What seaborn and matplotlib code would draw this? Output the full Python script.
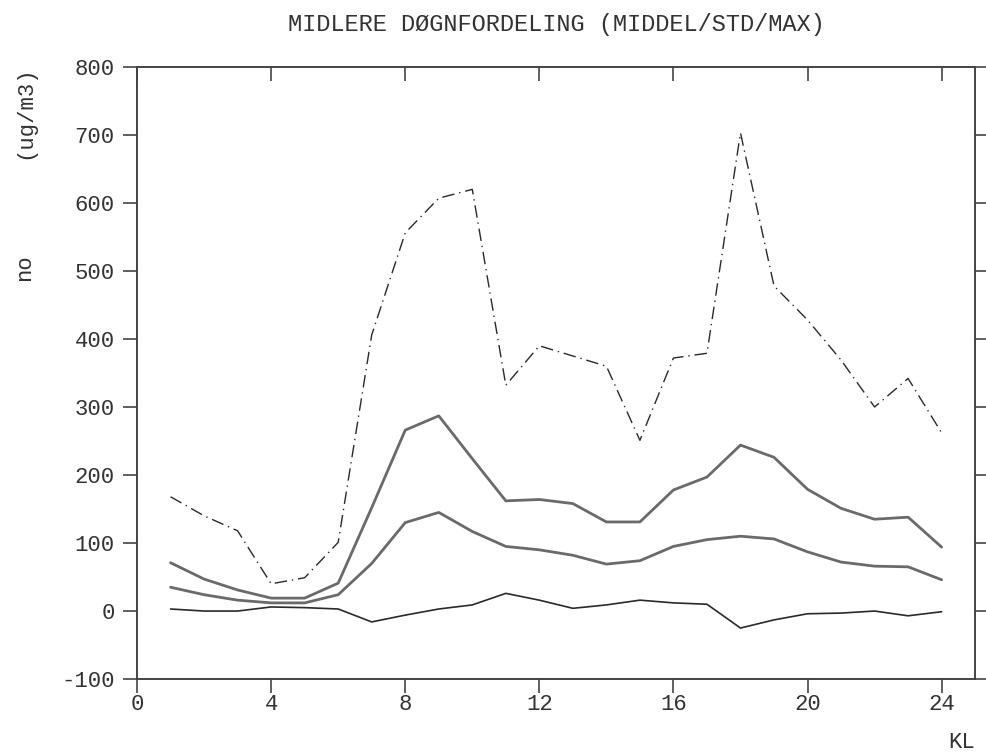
import matplotlib
matplotlib.use("Agg")
from matplotlib import pyplot as plt
import seaborn as sns
import pandas as pd

# hourly values, NO (ug/m3)
hours = list(range(1, 25))
mean_plus_std = [71, 47, 31, 19, 19, 41, 152, 266, 287, 224, 162, 164, 158, 131, 131,
                 178, 197, 244, 226, 179, 151, 135, 138, 94]
mean_vals = [35, 24, 16, 12, 12, 24, 70, 130, 145, 117, 95, 90, 82, 69, 74,
             95, 105, 110, 106, 87, 72, 66, 65, 46]
mean_minus_std = [3, 0, 0, 6, 5, 3, -16, -6, 3, 9, 26, 16, 4, 9, 16,
                  12, 10, -25, -13, -4, -3, 0, -7, -1]
max_vals = [168, 140, 118, 40, 49, 101, 406, 556, 607, 620, 332, 390, 375, 360, 251,
            372, 379, 703, 478, 428, 369, 300, 342, 262]

x_ticks = [0, 4, 8, 12, 16, 20, 24]
y_ticks = list(range(-100, 801, 100))

df = pd.DataFrame({"KL": hours, "std_hi": mean_plus_std, "middel": mean_vals,
                   "std_lo": mean_minus_std, "max": max_vals})

sns.set_style("ticks")
plt.rcParams["font.family"] = ["Liberation Mono", "DejaVu Sans Mono"]

fig = plt.figure(figsize=(9.86, 7.52), dpi=100)
ax = fig.add_axes([0.139, 0.097, 0.850, 0.814])

sns.lineplot(data=df, x="KL", y="std_hi", ax=ax, color="#6a6a6a", lw=2.0)
sns.lineplot(data=df, x="KL", y="middel", ax=ax, color="#6a6a6a", lw=2.0)
sns.lineplot(data=df, x="KL", y="std_lo", ax=ax, color="#2a2a2a", lw=1.2)
sns.lineplot(data=df, x="KL", y="max", ax=ax, color="#2a2a2a", lw=1.0,
             linestyle=(0, (9, 3.5, 1, 3.5)))

ax.set_xlim(0, 25)
ax.set_ylim(-100, 800)
ax.set_xticks(x_ticks)
ax.set_yticks(y_ticks)
ax.set_xticklabels([str(v) for v in x_ticks], fontsize=16, color="#333333")
ax.set_yticklabels([str(v) for v in y_ticks], fontsize=16, color="#333333")

ax.tick_params(axis="x", which="both", bottom=True, top=True, direction="in",
               length=10, width=1.2, pad=11, color="#444444")
ax.xaxis.set_ticks_position("both")
for t in ax.xaxis.get_major_ticks():
    t.tick1line.set_marker(3)  # bottom: pointing up (inside)
    t.tick2line.set_marker(3)  # top: pointing up (outside)
ax.tick_params(axis="y", which="both", left=True, right=True, direction="out",
               length=10, width=1.2, pad=6, color="#444444")

for s in ax.spines.values():
    s.set_visible(True)
    s.set_linewidth(1.4)
    s.set_color("#444444")

ax.set_title("MIDLERE DØGNFORDELING (MIDDEL/STD/MAX)", fontsize=17,
             color="#333333", pad=26)
ax.set_xlabel("KL", fontsize=16, color="#333333", loc="right", labelpad=12)
ax.set_ylabel("no", fontsize=16, color="#333333")
ax.yaxis.set_label_coords(-0.122, 0.672)
ax.text(-0.134, 0.926, "(ug/m3)", transform=ax.transAxes, rotation=90,
        fontsize=16, color="#333333", ha="center", va="center")

fig.savefig("out.png", dpi=100, facecolor="white")
